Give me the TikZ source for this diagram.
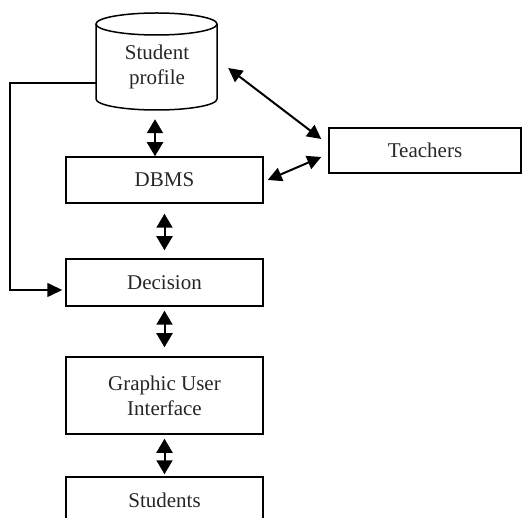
\documentclass[tikz,border=0pt]{standalone}
\usepackage{fontspec}
\setmainfont{Liberation Serif}
\usetikzlibrary{arrows.meta,calc}
\begin{document}
\begin{tikzpicture}[x=1pt,y=-1pt,
  txt/.style={font=\fontsize{21}{25}\selectfont, align=center, text=black!85},
  box/.style={txt, draw, line width=1.5pt, inner sep=0pt},
  dbl/.style={line width=2pt, {Triangle[length=14pt,width=16pt]}-{Triangle[length=14pt,width=16pt]}},
  diag/.style={line width=2pt, {Triangle[length=14pt,width=14pt]}-{Triangle[length=14pt,width=14pt]}},
  fb/.style={line width=1.6pt, -{Triangle[length=15pt,width=14pt]}}]
\useasboundingbox (0,0) rectangle (522,518);
\clip (0,0) rectangle (522,518);
% cylinder
\node[txt, minimum width=121pt, minimum height=75pt, inner sep=0pt] (sp) at (156.5,61.5) {};
\node[txt] (sptxt) at (157,67) {Student\\profile};
\draw[line width=1.5pt, fill=white] (156.5,24) ellipse[x radius=60.5, y radius=11];
\draw[line width=1.5pt] (96,24) -- (96,99) arc[start angle=180, end angle=0, x radius=60.5, y radius=11] -- (217,24);
% boxes
\node[box, minimum width=197pt, minimum height=46pt] (dbms) at (164.5,180) {DBMS};
\node[box, minimum width=197pt, minimum height=47pt] (dec) at (164.5,282.5) {Decision};
\node[box, minimum width=197pt, minimum height=77pt] (gui) at (164.5,395.5) {Graphic User\\Interface};
\node[box, minimum width=197pt, minimum height=46pt] (stu) at (164.5,500) {Students};
\node[box, minimum width=192pt, minimum height=45pt] (tea) at (425,150.5) {Teachers};
% vertical arrows
\draw[dbl] ($(sp.south)+(-1.5,20)$) -- ($(sp.south |- dbms.north)+(-1.5,0)$);
\draw[dbl] ($(dbms.south)+(0,10)$) -- ($(dec.north)+(0,-8)$);
\draw[dbl] ($(dec.south)+(0,4)$) -- ($(gui.north)+(0,-9)$);
\draw[dbl] ($(gui.south)+(0,4)$) -- ($(stu.north)+(0,-2)$);
% diagonal arrows
\draw[diag] ($(sp.east)+(11,6.5)$) -- ($(tea.west)+(-7,-11.5)$);
\draw[diag] ($(dbms.east)+(4,0)$) -- ($(tea.west)+(-7,6.5)$);
% feedback
\draw[fb] ($(sp.west)+(0,21.5)$) -- ++(-86,0) |- ($(dec.west)+(-3,7.5)$);
\end{tikzpicture}
\end{document}
